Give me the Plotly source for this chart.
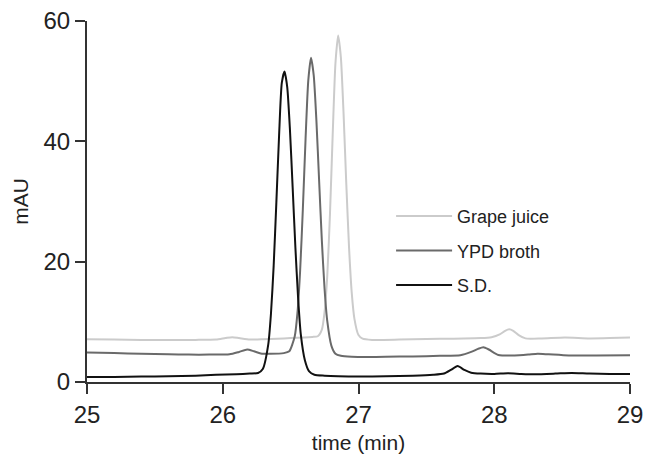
import plotly.graph_objects as go

# ---- data ----
series_names = ["Grape juice", "YPD broth", "S.D."]

grape_time = [25.00, 25.20, 25.40, 25.60, 25.80, 25.95, 26.02, 26.07, 26.12, 26.20,
              26.30, 26.40, 26.50, 26.60, 26.66, 26.70, 26.73, 26.75, 26.77, 26.79,
              26.81, 26.83, 26.85, 26.87, 26.89, 26.91, 26.93, 26.95, 26.97, 27.00,
              27.03, 27.10, 27.30, 27.50, 27.70, 27.90, 27.98, 28.04, 28.08, 28.11,
              28.14, 28.18, 28.23, 28.35, 28.52, 28.70, 28.85, 29.00]
grape_mau = [7.10, 7.05, 7.00, 7.00, 7.00, 7.05, 7.30, 7.45, 7.30, 7.05,
             7.10, 7.20, 7.30, 7.40, 7.50, 7.60, 8.70, 11.6, 17.7, 28.0,
             41.2, 52.9, 57.6, 54.0, 44.6, 33.0, 22.5, 14.9, 10.5, 7.80,
             7.20, 7.00, 7.05, 7.15, 7.20, 7.30, 7.45, 7.90, 8.50, 8.75,
             8.50, 7.80, 7.25, 7.25, 7.40, 7.25, 7.30, 7.40]

ypd_time = [25.00, 25.20, 25.40, 25.60, 25.75, 25.90, 26.05, 26.12, 26.18, 26.23,
            26.28, 26.35, 26.45, 26.49, 26.53, 26.55, 26.57, 26.59, 26.61, 26.63,
            26.65, 26.67, 26.69, 26.71, 26.73, 26.75, 26.77, 26.80, 26.83, 26.87,
            26.95, 27.05, 27.20, 27.40, 27.60, 27.75, 27.83, 27.88, 27.92, 27.96,
            28.03, 28.15, 28.25, 28.32, 28.40, 28.55, 28.75, 29.00]
ypd_mau = [4.90, 4.80, 4.70, 4.60, 4.55, 4.55, 4.60, 5.00, 5.40, 5.10,
           4.75, 4.70, 4.80, 5.10, 7.55, 11.4, 18.5, 28.7, 40.4, 50.1,
           53.9, 51.0, 43.4, 33.4, 23.5, 15.5, 10.1, 6.05, 4.70, 4.35,
           4.20, 4.15, 4.20, 4.25, 4.35, 4.45, 5.00, 5.50, 5.77, 5.40,
           4.50, 4.40, 4.55, 4.70, 4.60, 4.40, 4.40, 4.45]

sd_time = [25.00, 25.20, 25.40, 25.60, 25.80, 25.95, 26.10, 26.20, 26.26, 26.295,
           26.335, 26.355, 26.375, 26.395, 26.415, 26.435, 26.455, 26.475, 26.495, 26.515,
           26.535, 26.555, 26.575, 26.605, 26.635, 26.675, 26.75, 26.85, 27.00, 27.20,
           27.40, 27.55, 27.63, 27.68, 27.73, 27.78, 27.83, 27.90, 28.00, 28.10,
           28.20, 28.30, 28.45, 28.57, 28.70, 28.85, 29.00]
sd_mau = [0.85, 0.85, 0.90, 0.95, 1.05, 1.20, 1.30, 1.40, 1.50, 2.15,
          6.20, 11.3, 19.3, 29.9, 41.0, 49.7, 51.6, 49.0, 41.9, 32.3,
          22.4, 14.0, 7.90, 3.60, 1.80, 1.20, 1.05, 0.95, 0.90, 0.95,
          1.05, 1.20, 1.40, 2.00, 2.65, 2.00, 1.55, 1.40, 1.35, 1.45,
          1.35, 1.30, 1.40, 1.50, 1.40, 1.35, 1.35]

x_ticks = [25, 26, 27, 28, 29]
y_ticks = [0, 20, 40, 60]

colors = ["#cbcbcb", "#6a6a6a", "#111111"]
times = [grape_time, ypd_time, sd_time]
values = [grape_mau, ypd_mau, sd_mau]

fig = go.Figure()
for name, t, v, c in zip(series_names, times, values, colors):
    fig.add_trace(go.Scatter(
        x=t, y=v, mode="lines", name=name, legendgroup=name,
        line=dict(color=c, width=2, shape="spline", smoothing=0.6),
    ))

FONT = "Liberation Sans, Arial, sans-serif"
axis_common = dict(
    showline=True, linecolor="#333333", linewidth=2,
    ticks="outside", ticklen=10, tickwidth=2, tickcolor="#333333",
    showgrid=False, zeroline=False, automargin=False,
    ticklabeloverflow="allow",
    tickfont=dict(family=FONT, size=24, color="#222222"),
    title_font=dict(family=FONT, size=21, color="#222222"),
)

fig.update_xaxes(range=[25, 29], tickvals=x_ticks, ticktext=[str(t) for t in x_ticks],
                 title_text="time (min)", title_standoff=9, **axis_common)
fig.update_yaxes(range=[0, 60], tickvals=y_ticks, ticktext=[str(t) for t in y_ticks],
                 title_text="mAU", title_standoff=9, **axis_common)

fig.update_layout(
    width=646, height=459,
    margin=dict(l=87, r=16, t=21, b=77),
    paper_bgcolor="white", plot_bgcolor="white",
    showlegend=True,
    legend=dict(x=0.56, y=0.51, xanchor="left", yanchor="top",
                font=dict(family=FONT, size=18, color="#222222"),
                tracegroupgap=8, itemwidth=56, bgcolor="rgba(0,0,0,0)"),
)

# remove the default page margin so the figure sits at the window's corner
fig.write_html("out.html",
               config={"displayModeBar": False},
               post_script="document.body.style.margin='0px';document.body.style.overflow='hidden';")
